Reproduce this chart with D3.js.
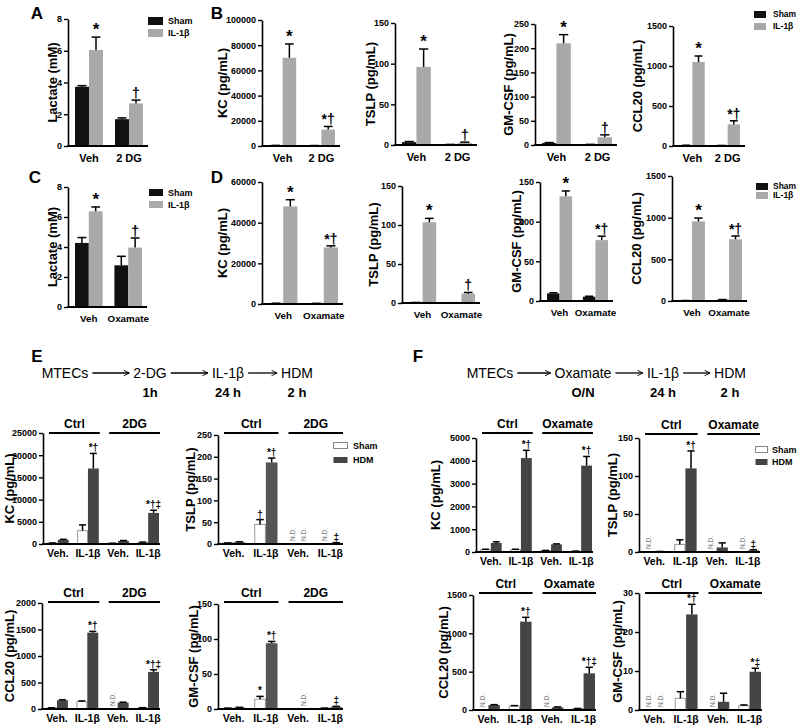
<!DOCTYPE html>
<html><head><meta charset="utf-8">
<script src="https://cdn.jsdelivr.net/npm/d3@7"></script>
<style>body{margin:0;background:#fff} text{font-family:"Liberation Sans",Arial,Helvetica,sans-serif;fill:#000}</style>
</head><body><svg id="fig" width="800" height="727"></svg>
<script>
// ---------------- DATA ----------------
const seriesTop = ["Sham", "IL-1\u03b2"];
const seriesBottom = ["Sham", "HDM"];
const groups2DG = ["Veh", "2 DG"];
const groupsOxa = ["Veh", "Oxamate"];
const groups4 = ["Veh.", "IL-1\u03b2", "Veh.", "IL-1\u03b2"];
const treat2DG = ["Ctrl", "2DG"];
const treatOxa = ["Ctrl", "Oxamate"];
const schemeE = ["MTECs", "2-DG", "IL-1\u03b2", "HDM"];
const timesE = ["1h", "24 h", "2 h"];
const schemeF = ["MTECs", "Oxamate", "IL-1\u03b2", "HDM"];
const timesF = ["O/N", "24 h", "2 h"];

// Panel A (lactate, 2-DG)
const A_mean = [[3.73, 1.69], [6.05, 2.68]];
const A_err = [[0.07, 0.08], [0.81, 0.21]];
const A_marks = [["", ""], ["*", "\u2020"]];
const lactate_ticks = [0, 2, 4, 6, 8];

// Panel B
const B_KC_mean = [[400, 300], [70000, 13000]];
const B_KC_err = [[100, 100], [11000, 2500]];
const B_KC_marks = [["", ""], ["*", "*\u2020"]];
const B_KC_ticks = [0, 20000, 40000, 60000, 80000, 100000];
const B_TSLP_mean = [[3.5, 0.5], [96, 2.5]];
const B_TSLP_err = [[0.8, 0.2], [22, 1]];
const B_TSLP_marks = [["", ""], ["*", "\u2020"]];
const ticks150 = [0, 50, 100, 150];
const B_GM_mean = [[4, 1], [210, 16]];
const B_GM_err = [[1, 0.3], [18, 5]];
const B_GM_marks = [["", ""], ["*", "\u2020"]];
const B_GM_ticks = [0, 50, 100, 150, 200, 250];
const B_CCL20_mean = [[8, 5], [1050, 270]];
const B_CCL20_err = [[2, 2], [75, 45]];
const B_CCL20_marks = [["", ""], ["*", "*\u2020"]];
const ticks1500 = [0, 500, 1000, 1500];

// Panel C (lactate, oxamate)
const C_mean = [[4.27, 2.78], [6.38, 3.96]];
const C_err = [[0.36, 0.6], [0.29, 0.64]];
const C_marks = [["", ""], ["*", "\u2020"]];

// Panel D
const D_KC_mean = [[300, 250], [48000, 27800]];
const D_KC_err = [[80, 80], [3300, 800]];
const D_KC_marks = [["", ""], ["*", "*\u2020"]];
const D_KC_ticks = [0, 20000, 40000, 60000];
const D_TSLP_mean = [[0.5, 0.3], [103.5, 12]];
const D_TSLP_err = [[0.2, 0.1], [5, 1.5]];
const D_TSLP_marks = [["", ""], ["*", "\u2020"]];
const D_GM_mean = [[9.6, 5.4], [132, 76.7]];
const D_GM_err = [[0.8, 0.6], [6.7, 5]];
const D_GM_marks = [["", ""], ["*", "*\u2020"]];
const D_CCL20_mean = [[5, 15], [955, 740]];
const D_CCL20_err = [[1, 2], [40, 40]];
const D_CCL20_marks = [["", ""], ["*", "*\u2020"]];

// Panel E (2-DG, HDM)
const E_KC_mean = [[200, 3000, 150, 350], [950, 17000, 700, 7000]];
const E_KC_err = [[30, 1300, 20, 80], [100, 3400, 80, 600]];
const E_KC_marks = [["", "", "", ""], ["", "*\u2020", "", "*\u2020\u2021"]];
const E_KC_ticks = [0, 5000, 10000, 15000, 20000, 25000];
const E_TSLP_mean = [[2, 45, null, null], [4, 187, null, 2]];
const E_TSLP_err = [[0.5, 11, 0, 0], [1, 10, 0, 1]];
const E_TSLP_marks = [["", "\u2020", "", ""], ["", "*\u2020", "", "\u2021"]];
const E_TSLP_ticks = [0, 50, 100, 150, 200, 250];
const E_CCL20_mean = [[20, 140, null, 20], [165, 1440, 120, 700]];
const E_CCL20_err = [[3, 12, 0, 5], [8, 25, 8, 40]];
const E_CCL20_marks = [["", "", "", ""], ["", "*\u2020", "", "*\u2020\u2021"]];
const E_CCL20_ticks = [0, 500, 1000, 1500, 2000];
const E_GM_mean = [[1, 14, 0.5, 1], [2, 94, null, 3]];
const E_GM_err = [[0.3, 4, 0, 0.3], [0.4, 2.5, 0, 0.8]];
const E_GM_marks = [["", "*", "", ""], ["", "*\u2020", "", "\u2021"]];

// Panel F (oxamate, HDM)
const F_KC_mean = [[100, 100, 60, 30], [395, 4120, 335, 3790]];
const F_KC_err = [[20, 20, 10, 10], [50, 340, 20, 400]];
const F_KC_marks = [["", "", "", ""], ["", "*\u2020", "", "*\u2020"]];
const F_KC_ticks = [0, 1000, 2000, 3000, 4000, 5000];
const F_TSLP_mean = [[null, 10, null, null], [0.5, 110, 6, 2]];
const F_TSLP_err = [[0, 6, 0, 0], [0.2, 23, 6, 1]];
const F_TSLP_marks = [["", "", "", ""], ["", "*\u2020", "", "\u2021"]];
const F_CCL20_mean = [[null, 52, null, 17], [65, 1152, 35, 478]];
const F_CCL20_err = [[0, 5, 0, 3], [5, 57, 5, 79]];
const F_CCL20_marks = [["", "", "", ""], ["", "*\u2020", "", "*\u2020\u2021"]];
const F_GM_mean = [[null, 3, null, 1.1], [null, 24.5, 2.1, 9.8]];
const F_GM_err = [[0, 1.7, 0, 0.2], [0, 2.6, 2.2, 0.9]];
const F_GM_marks = [["", "", "", ""], ["", "*\u2020", "", "*\u2021"]];
const F_GM_ticks = [0, 10, 20, 30];

// ---------------- DRAWING ----------------
const svg = d3.select("#fig");
const topFills = ["#111111", "#a9a9a9"], topStrokes = ["none", "none"];
const botFills = ["#ffffff", "#444444"], botStrokes = ["#9a9a9a", "none"];

function chart(c) {
  const g = svg.append("g");
  const y = d3.scaleLinear().domain([0, c.ticks[c.ticks.length - 1]]).range([c.yb, c.yt]);
  const x = d3.scaleBand().domain(d3.range(c.groups.length))
    .range([c.ax + c.padL, c.ae - c.padR]).paddingInner(c.pi).paddingOuter(0);
  const xs = d3.scaleBand().domain(d3.range(c.mean.length)).range([0, x.bandwidth()]);
  const bw = xs.bandwidth();
  c.mean.forEach((arr, s) => {
    arr.forEach((v, i) => {
      const bx = x(i) + xs(s), cx = bx + bw / 2;
      if (v === null) {
        g.append("text").attr("transform", `translate(${cx + 2.5},${c.yb - 3}) rotate(-90)`)
          .attr("font-size", 6.5).style("fill", "#777").text("N.D.");
        return;
      }
      const ins = c.strokes[s] === "none" ? 0 : 0.5;
      g.append("rect").attr("x", bx + ins).attr("y", y(v))
        .attr("width", bw - 2 * ins).attr("height", Math.max(0, c.yb - y(v) - ins))
        .attr("fill", c.fills[s]).attr("stroke", c.strokes[s]).attr("stroke-width", 1);
      const e = c.err[s][i];
      const yt = y(v + e);
      if (e > 0) {
        g.append("line").attr("x1", cx).attr("x2", cx).attr("y1", y(v)).attr("y2", yt)
          .attr("stroke", "#000").attr("stroke-width", 1.5);
        g.append("line").attr("x1", cx - bw * 0.32).attr("x2", cx + bw * 0.32).attr("y1", yt).attr("y2", yt)
          .attr("stroke", "#000").attr("stroke-width", 1.5);
      }
      const m = c.marks[s][i];
      if (m) {
        g.append("text").attr("x", cx).attr("y", yt - 2)
          .attr("text-anchor", "middle").attr("font-size", c.big ? (m === "*" ? 17 : 14) : 10)
          .attr("font-weight", "bold").text(m);
      }
    });
  });
  // y axis
  const ax = d3.axisLeft(y).tickValues(c.ticks).tickSize(4).tickSizeOuter(0).tickPadding(2)
    .tickFormat(d3.format("d"));
  const ga = g.append("g").attr("transform", `translate(${c.ax},0)`).call(ax);
  ga.select(".domain").attr("stroke", "#000").attr("stroke-width", 1.6);
  ga.selectAll(".tick line").attr("stroke", "#000").attr("stroke-width", 1.4);
  ga.selectAll(".tick text").attr("font-size", 9).attr("font-weight", "bold")
    .attr("font-family", '"Liberation Sans",Arial,sans-serif').style("fill", "#000");
  // x axis
  g.append("line").attr("x1", c.ax - 0.8).attr("x2", c.ae).attr("y1", c.yb).attr("y2", c.yb)
    .attr("stroke", "#000").attr("stroke-width", 1.8);
  const xa = d3.axisBottom(x).tickSize(0).tickPadding(0).tickFormat(i => c.groups[i]);
  const gx = g.append("g").attr("transform", `translate(0,${c.yb})`).call(xa);
  gx.select(".domain").remove();
  gx.selectAll(".tick text").attr("y", c.labDy).attr("dy", 0).attr("font-size", c.labSize)
    .attr("font-weight", "bold").attr("font-family", '"Liberation Sans",Arial,sans-serif').style("fill", "#000");
  // y title
  g.append("text").attr("transform", `translate(${c.lx},${(c.yt + c.yb) / 2}) rotate(-90)`)
    .attr("text-anchor", "middle").attr("dy", "0.35em").attr("font-size", 13).attr("font-weight", "bold")
    .text(c.title);
  // treatment bars
  if (c.treat) {
    c.treat.forEach((t, k) => {
      const x1 = x(2 * k) + 2, x2 = x(2 * k + 1) + x.bandwidth() + 1;
      g.append("line").attr("x1", x1).attr("x2", x2).attr("y1", c.lineY).attr("y2", c.lineY)
        .attr("stroke", "#000").attr("stroke-width", 2);
      g.append("text").attr("x", (x1 + x2) / 2).attr("y", c.lineY - 5).attr("text-anchor", "middle")
        .attr("font-size", 12).attr("font-weight", "bold").text(t);
    });
  }
}

const TOP = {fills: topFills, strokes: topStrokes, big: true, padL: 7, padR: 5, pi: 0.3, series: seriesTop, labSize: 11};
const BOT = {fills: botFills, strokes: botStrokes, big: false, padL: 4, padR: 1, pi: 0.28, series: seriesBottom, groups: groups4, labSize: 10.5};

// Row 1
chart({...TOP, groups: groups2DG, mean: A_mean, err: A_err, marks: A_marks, ticks: lactate_ticks, ax: 68, ae: 148, yt: 19, yb: 146, lx: 52, labDy: 16, title: "Lactate (mM)"});
chart({...TOP, groups: groups2DG, mean: B_KC_mean, err: B_KC_err, marks: B_KC_marks, ticks: B_KC_ticks, ax: 262, ae: 340, yt: 20, yb: 146, lx: 222, labDy: 16, title: "KC (pg/mL)"});
chart({...TOP, groups: groups2DG, mean: B_TSLP_mean, err: B_TSLP_err, marks: B_TSLP_marks, ticks: ticks150, ax: 395, ae: 477, yt: 23, yb: 145, lx: 370, labDy: 16, title: "TSLP (pg/mL)"});
chart({...TOP, groups: groups2DG, mean: B_GM_mean, err: B_GM_err, marks: B_GM_marks, ticks: B_GM_ticks, ax: 535, ae: 617, yt: 24, yb: 145, lx: 508, labDy: 16, title: "GM-CSF (pg/mL)"});
chart({...TOP, groups: groups2DG, mean: B_CCL20_mean, err: B_CCL20_err, marks: B_CCL20_marks, ticks: ticks1500, ax: 673, ae: 745, yt: 26, yb: 146, lx: 637, labDy: 16, title: "CCL20 (pg/mL)"});
// Row 2
const ROW2 = {...TOP, labSize: 9.8, labDy: 15};
chart({...ROW2, groups: groupsOxa, mean: C_mean, err: C_err, marks: C_marks, ticks: lactate_ticks, ax: 68, ae: 147, yt: 187, yb: 307, lx: 52, title: "Lactate (mM)"});
chart({...ROW2, groups: groupsOxa, mean: D_KC_mean, err: D_KC_err, marks: D_KC_marks, ticks: D_KC_ticks, ax: 262, ae: 343, yt: 182, yb: 304, lx: 222, title: "KC (pg/mL)"});
chart({...ROW2, groups: groupsOxa, mean: D_TSLP_mean, err: D_TSLP_err, marks: D_TSLP_marks, ticks: ticks150, ax: 402, ae: 480, yt: 186, yb: 303, lx: 373, title: "TSLP (pg/mL)"});
chart({...ROW2, groups: groupsOxa, mean: D_GM_mean, err: D_GM_err, marks: D_GM_marks, ticks: ticks150, ax: 540, ae: 613, yt: 182, yb: 301, lx: 516, title: "GM-CSF (pg/mL)"});
chart({...ROW2, groups: groupsOxa, mean: D_CCL20_mean, err: D_CCL20_err, marks: D_CCL20_marks, ticks: ticks1500, ax: 672, ae: 747, yt: 176, yb: 301, lx: 636, title: "CCL20 (pg/mL)"});
// Panel E
chart({...BOT, mean: E_KC_mean, err: E_KC_err, marks: E_KC_marks, ticks: E_KC_ticks, ax: 43, ae: 160, yt: 433, yb: 544, lx: 9, labDy: 13, title: "KC (pg/mL)", treat: treat2DG, lineY: 433});
chart({...BOT, fills: ["#fff", "#555"], mean: E_TSLP_mean, err: E_TSLP_err, marks: E_TSLP_marks, ticks: E_TSLP_ticks, ax: 218, ae: 343, yt: 435, yb: 544, lx: 190, labDy: 13, title: "TSLP (pg/mL)", treat: treat2DG, lineY: 433});
chart({...BOT, mean: E_CCL20_mean, err: E_CCL20_err, marks: E_CCL20_marks, ticks: E_CCL20_ticks, ax: 42, ae: 160, yt: 603, yb: 709, lx: 9, labDy: 13, title: "CCL20 (pg/mL)", treat: treat2DG, lineY: 602});
chart({...BOT, fills: ["#fff", "#555"], mean: E_GM_mean, err: E_GM_err, marks: E_GM_marks, ticks: ticks150, ax: 218, ae: 343, yt: 604, yb: 709, lx: 193, labDy: 13, title: "GM-CSF (pg/mL)", treat: treat2DG, lineY: 602});
// Panel F
chart({...BOT, mean: F_KC_mean, err: F_KC_err, marks: F_KC_marks, ticks: F_KC_ticks, ax: 476, ae: 593, yt: 438, yb: 552, lx: 435, labDy: 13, title: "KC (pg/mL)", treat: treatOxa, lineY: 433});
chart({...BOT, mean: F_TSLP_mean, err: F_TSLP_err, marks: F_TSLP_marks, ticks: ticks150, ax: 639, ae: 760, yt: 438, yb: 552, lx: 612, labDy: 13, title: "TSLP (pg/mL)", treat: treatOxa, lineY: 434});
chart({...BOT, mean: F_CCL20_mean, err: F_CCL20_err, marks: F_CCL20_marks, ticks: ticks1500, ax: 473, ae: 596, yt: 595, yb: 710, lx: 443, labDy: 13, title: "CCL20 (pg/mL)", treat: treatOxa, lineY: 593});
chart({...BOT, mean: F_GM_mean, err: F_GM_err, marks: F_GM_marks, ticks: F_GM_ticks, ax: 639, ae: 762, yt: 593, yb: 710, lx: 617, labDy: 13, title: "GM-CSF (pg/mL)", treat: treatOxa, lineY: 593});

// Legends
function legend(x, ys, names, fills, strokes, w, h, tx, fs) {
  names.forEach((n, i) => {
    svg.append("rect").attr("x", x).attr("y", ys[i]).attr("width", w).attr("height", h)
      .attr("fill", fills[i]).attr("stroke", strokes[i]).attr("stroke-width", 1);
    svg.append("text").attr("x", tx).attr("y", ys[i] + h / 2).attr("dy", "0.35em")
      .attr("font-size", fs || 9).attr("font-weight", "bold").text(n);
  });
}
legend(148, [17, 29], seriesTop, topFills, topStrokes, 15, 8, 168);
legend(754, [11, 23], seriesTop, topFills, topStrokes, 12, 7, 773, 8.5);
legend(149, [189, 201], seriesTop, topFills, topStrokes, 14, 7, 168);
legend(756, [183, 192], seriesTop, topFills, topStrokes, 12, 7, 773, 8.5);
legend(333.5, [442.5, 457], seriesBottom, botFills, ["#888", "none"], 14, 6, 353);
legend(755.5, [446.5, 459], seriesBottom, botFills, ["#888", "none"], 12, 6, 772);

// Panel letters
[["A", 37, 19], ["B", 217, 19], ["C", 35, 183], ["D", 217, 183], ["E", 37, 362], ["F", 418, 362]].forEach(([t, x, y]) => {
  svg.append("text").attr("x", x).attr("y", y).attr("text-anchor", "middle")
    .attr("font-size", 17).attr("font-weight", "bold").text(t);
});

// Schemes
svg.append("defs").append("marker").attr("id", "ah").attr("viewBox", "0 0 10 10")
  .attr("refX", 9).attr("refY", 5).attr("markerWidth", 7).attr("markerHeight", 7).attr("orient", "auto")
  .attr("markerUnits", "userSpaceOnUse")
  .append("path").attr("d", "M1,1 L9,5 L1,9").attr("fill", "none").attr("stroke", "#000").attr("stroke-width", 1.3);
function scheme(words, xs, times, tx, yw, yt) {
  const widths = [];
  words.forEach((w, i) => {
    const t = svg.append("text").attr("x", xs[i]).attr("y", yw).attr("text-anchor", "middle")
      .attr("font-size", 14).text(w);
    widths.push(t.node().getComputedTextLength());
  });
  for (let i = 0; i < words.length - 1; i++) {
    const x1 = xs[i] + widths[i] / 2 + 4, x2 = xs[i + 1] - widths[i + 1] / 2 - 4;
    svg.append("line").attr("x1", x1).attr("x2", x2).attr("y1", yw - 5).attr("y2", yw - 5)
      .attr("stroke", "#000").attr("stroke-width", 1.3).attr("marker-end", "url(#ah)");
  }
  times.forEach((t, i) => {
    svg.append("text").attr("x", tx[i]).attr("y", yt).attr("text-anchor", "middle")
      .attr("font-size", 13).attr("font-weight", "bold").text(t);
  });
}
scheme(schemeE, [65, 150, 228, 297], timesE, [150, 228, 297], 378, 397);
scheme(schemeF, [490, 583, 663, 730], timesF, [583, 663, 730], 378, 397);
</script></body></html>
